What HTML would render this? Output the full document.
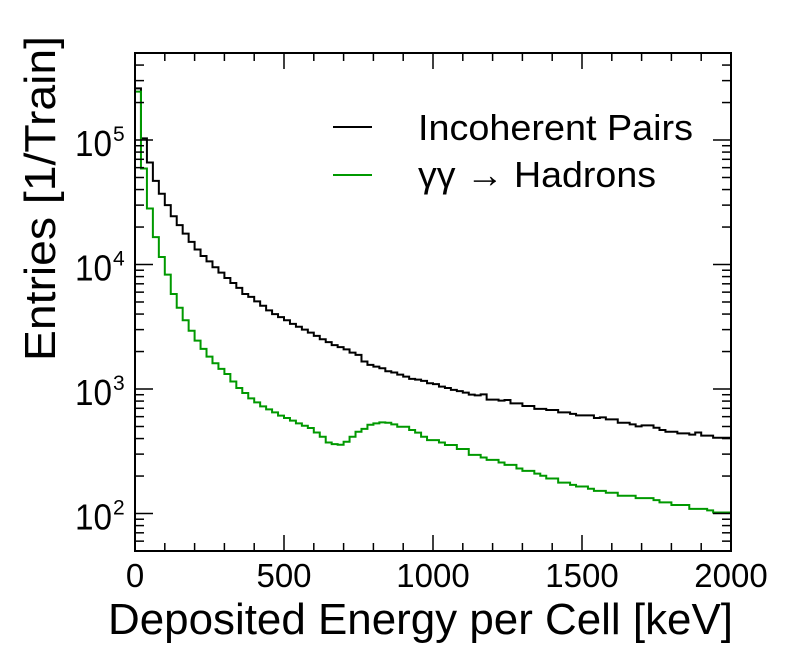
<!DOCTYPE html>
<html><head><meta charset="utf-8"><style>
html,body{margin:0;padding:0;background:#fff;}
svg{display:block;font-family:"Liberation Sans",sans-serif;}
</style></head><body>
<svg id="chart" width="796" height="672" viewBox="0 0 796 672">
<g id="marks"></g>
<g id="axes"></g>
<text x="108" y="634" font-size="44" textLength="625" lengthAdjust="spacingAndGlyphs">Deposited Energy per Cell [keV]</text>
<text transform="translate(55,361) rotate(-90)" font-size="44" textLength="325" lengthAdjust="spacingAndGlyphs">Entries [1/Train]</text>
<g>
<line x1="333" y1="127" x2="372" y2="127" stroke="#000" stroke-width="2"/>
<text x="418" y="140" font-size="36" textLength="275" lengthAdjust="spacingAndGlyphs">Incoherent Pairs</text>
<line x1="333" y1="175" x2="372" y2="175" stroke="#009900" stroke-width="2"/>
<text x="418" y="187" font-size="36" textLength="238" lengthAdjust="spacingAndGlyphs">γγ → Hadrons</text>
</g>
</svg>
<script>
const binWidth = 20;
const xTicks = [0, 500, 1000, 1500, 2000];
const yTicks = [2, 3, 4, 5];
const pairs = [260000,103000,66000,47000,37000,30000,24400,20700,17700,15200,13200,11700,10600,9500,8600,7800,7100,6500,5800,5500,5060,4670,4280,4000,3780,3570,3340,3160,3000,2840,2670,2510,2380,2250,2170,2080,
1960,1880,1665,1563,1514,1468,1389,1356,1306,1259,1206,1191,1162,1112,1095,1045,1020,984,962,935,901,890,906,822,822,807,817,767,767,731,731,692,692,679,679,649,649,631,614,614,614,585,592,570,570,536,536,520,501,511,511,489,469,454,454,440,440,430,448,422,422,406,406,406];
const hadrons = [245000,59000,28200,16600,11500,8300,5800,4500,3570,2940,2450,2100,1820,1610,1450,1320,1150,1020,930,841,782,726,687,649,611,585,557,530,507,486,448,414,372,361,357,377,414,454,
478,517,530,540,536,520,498,498,469,446,414,389,389,372,355,355,330,330,296,296,282,270,270,257,246,246,230,220,220,209,201,191,191,177,177,170,165,165,158,152,152,147,147,139,139,139,133,133,133,128,123,123,117,117,117,109,109,109,106,102,102,102];

const L=135,R=731,T=53,B=551,xmin=0,xmax=2000,ymin=50,ymax=500000;
const NS='http://www.w3.org/2000/svg';
function X(v){return L+(v-xmin)/(xmax-xmin)*(R-L);}
function Y(v){return B-(Math.log10(v)-Math.log10(ymin))/(Math.log10(ymax)-Math.log10(ymin))*(B-T);}
function mk(tag,attrs,parent){const e=document.createElementNS(NS,tag);for(const k in attrs)e.setAttribute(k,attrs[k]);parent.appendChild(e);return e;}
const marks=document.getElementById('marks'),axes=document.getElementById('axes');
function hist(data,color,name){
  let d='M'+X(0)+','+B;
  data.forEach((v,i)=>{const y=Math.min(B,Math.max(T,Y(v)));d+=' L'+X(i*binWidth)+','+y+' L'+X((i+1)*binWidth)+','+y;});
  const p=mk('path',{d:d,fill:'none',stroke:color,'stroke-width':2},marks);
  
  
}
hist(pairs,'#000','incoherent-pairs-histogram');
hist(hadrons,'#009900','gg-hadrons-histogram');
const frame=mk('rect',{x:L,y:T,width:R-L,height:B-T,fill:'none',stroke:'#000','stroke-width':2},axes);


for(let v=0;v<=2000;v+=100){
  const major=v%500===0,len=major?16:8,x=X(v);
  mk('line',{x1:x,y1:B,x2:x,y2:B-len,stroke:'#000','stroke-width':1.5},axes);
  mk('line',{x1:x,y1:T,x2:x,y2:T+len,stroke:'#000','stroke-width':1.5},axes);
}
xTicks.forEach(v=>{
  const t=mk('text',{x:X(v),y:587,'text-anchor':'middle','font-size':33},axes);
  t.textContent=v;
  
  
});
for(let e=1;e<=5;e++){for(let m=1;m<=9;m++){
  const v=m*Math.pow(10,e);if(v<ymin||v>ymax)continue;
  const y=Y(v),len=m===1?18:9;
  mk('line',{x1:L,y1:y,x2:L+len,y2:y,stroke:'#000','stroke-width':1.5},axes);
  mk('line',{x1:R,y1:y,x2:R-len,y2:y,stroke:'#000','stroke-width':1.5},axes);
}}
yTicks.forEach(e=>{
  const y=Y(Math.pow(10,e));
  const t=mk('text',{x:75,y:y+16,'font-size':36,textLength:37,lengthAdjust:'spacingAndGlyphs'},axes);
  t.textContent='10';
  
  
  const s=mk('text',{x:113,y:y+1,'font-size':21},axes);
  s.textContent=e;
  
  
});
</script>
</body></html>
